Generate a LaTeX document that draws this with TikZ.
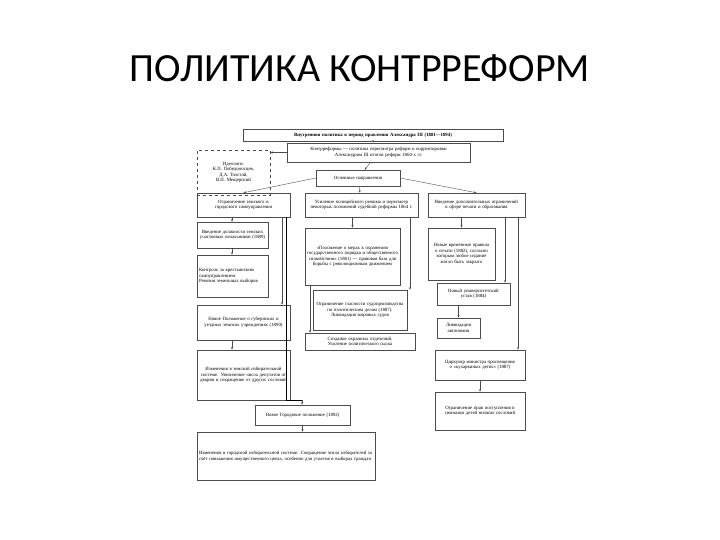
\documentclass[tikz,border=0pt]{standalone}
\usepackage{fontspec}
\setmainfont{Liberation Serif}
\newfontfamily\titlefont{Carlito}
\usetikzlibrary{arrows.meta}
\tikzset{
  bx/.style={draw=black!70,line width=0.5pt,align=center,font=\fontsize{4.8}{5.6}\selectfont,inner sep=1pt},
  ar/.style={-{Stealth[length=2.5pt,width=2pt]},line width=0.4pt,black!70},
}
\newcommand\mybox[7][]{%
  \node[bx,#1,minimum width={(#4-#2)*1pt},minimum height={(#5-#3)*1pt},text width={(#4-#2-4)*1pt}]
   (#6) at ({(#2+#4)/2},{(#3+#5)/2}) {#7};}
\begin{document}
\begin{tikzpicture}[x=1pt,y=-1pt]
\useasboundingbox (0,0) rectangle (720,540);
\node[font=\titlefont\fontsize{40}{44}\selectfont] (title) at (360,68) {ПОЛИТИКА КОНТРРЕФОРМ};
\mybox{243}{129}{503}{141}{h}{\textbf{Внутренняя политика в период правления Александра III (1881—1894)}}
\mybox{287}{143}{470}{162}{k}{Контрреформы — политика пересмотра реформ и корректировки\\ Александром III итогов реформ 1860-х гг.}
\mybox[dashed]{197}{150}{270}{195}{id}{Идеологи:\\ К.П. Победоносцев,\\ Д.А. Толстой,\\ В.П. Мещерский}
\mybox{316}{170}{400}{186}{on}{Основные направления}
\mybox{197}{193}{290}{217}{a}{Ограничение земского и городского самоуправления}
\mybox{305}{193}{418}{217}{b}{Усиление полицейского режима и пересмотр некоторых положений судебной реформы 1864 г.}
\mybox{428}{193}{525}{217}{c}{Введение дополнительных ограничений в сфере печати и образования}
\mybox{197}{222}{268}{248}{a1}{Введение должности земских участковых начальников (1889)}
\mybox[align=left]{197}{255}{268}{297}{a2}{Контроль за крестьянским самоуправлением.\\ Ревизия земельных выборов}
\mybox{197}{305}{290}{340}{a3}{Новое Положение о губернских и уездных земских учреждениях (1890)}
\mybox{197}{350}{290}{400}{a4}{Изменения в земской избирательной системе. Увеличение числа депутатов от дворян и сокращение от других сословий}
\mybox{255}{405}{350}{425}{a5}{Новое Городовое положение (1892)}
\mybox[align=left]{197}{432}{375}{480}{a6}{Изменения в городской избирательной системе. Сокращение числа избирателей за счёт повышения имущественного ценза, особенно для участия в выборах граждан}
\mybox{305}{228}{400}{285}{b1}{«Положение о мерах к охранению государственного порядка и общественного спокойствия» (1881) — правовая база для борьбы с революционным движением}
\mybox{313}{290}{407}{330}{b2}{Ограничение гласности судопроизводства по политическим делам (1887).\\ Ликвидация мировых судов}
\mybox{305}{333}{415}{350}{b3}{Создание охранных отделений. Усиление политического сыска}
\mybox{428}{228}{495}{280}{c1}{Новые временные правила о печати (1882), согласно которым любое издание могло быть закрыто}
\mybox{437}{283}{510}{305}{c2}{Новый университетский устав (1884)}
\mybox{437}{318}{480}{338}{c3}{Ликвидация автономии}
\mybox{435}{350}{525}{380}{c4}{Циркуляр министра просвещения о «кухаркиных детях» (1887)}
\mybox{435}{392}{525}{430}{c5}{Ограничение прав поступления в гимназии детей низших сословий}
\coordinate (L1) at (232,0);
\coordinate (L2) at (282,0);
\coordinate (L3) at (302,0);
\coordinate (L4) at (310,0);
\coordinate (L5) at (410,0);
\coordinate (R1) at (505,0);
\coordinate (R2) at (518,0);
\coordinate (LB) at (286,400);
\coordinate (BT) at (410,288);
% connectors
\draw[ar] (h.south) -- (k.north -| h.south);
\draw[ar] (k.west) -- (id.east |- k.west);
\draw[ar] (k) -- (on);
\draw[ar] (on.west) -- (a.north);
\draw[ar] (on) -- (b);
\draw[ar] (on.east) -- (c.north);
\draw[ar] (a.south -| L1) -- (a1.north -| L1);
\draw[ar] (a1.south -| L1) -- (a2.north -| L1);
\draw[ar] (a.south -| L2) -- (a3.north -| L2);
\draw[ar] (a3.south -| L1) -- (a4.north -| L1);
\draw (a.south -| LB) -- (LB) -- (LB -| L3);
\draw[ar] (a4.south -| L3) -- (a5.north -| L3);
\draw[ar] (a5) -- (a6.north -| a5);
\draw[ar] (b.south -| b1) -- (b1);
\draw[ar] (b.south -| L5) -- (b2.north -| L5);
\draw[ar] (b1.south -| L4) -- (b3.north -| L4);
\draw[ar] (c.south -| c1) -- (c1);
\draw[ar] (c.south -| R1) -- (c2.north -| R1);
\draw[ar] (c2.south -| c3) -- (c3);
\draw[ar] (c.south -| R2) -- (c4.north -| R2);
\draw[ar] (c4) -- (c5);
\end{tikzpicture}
\end{document}
